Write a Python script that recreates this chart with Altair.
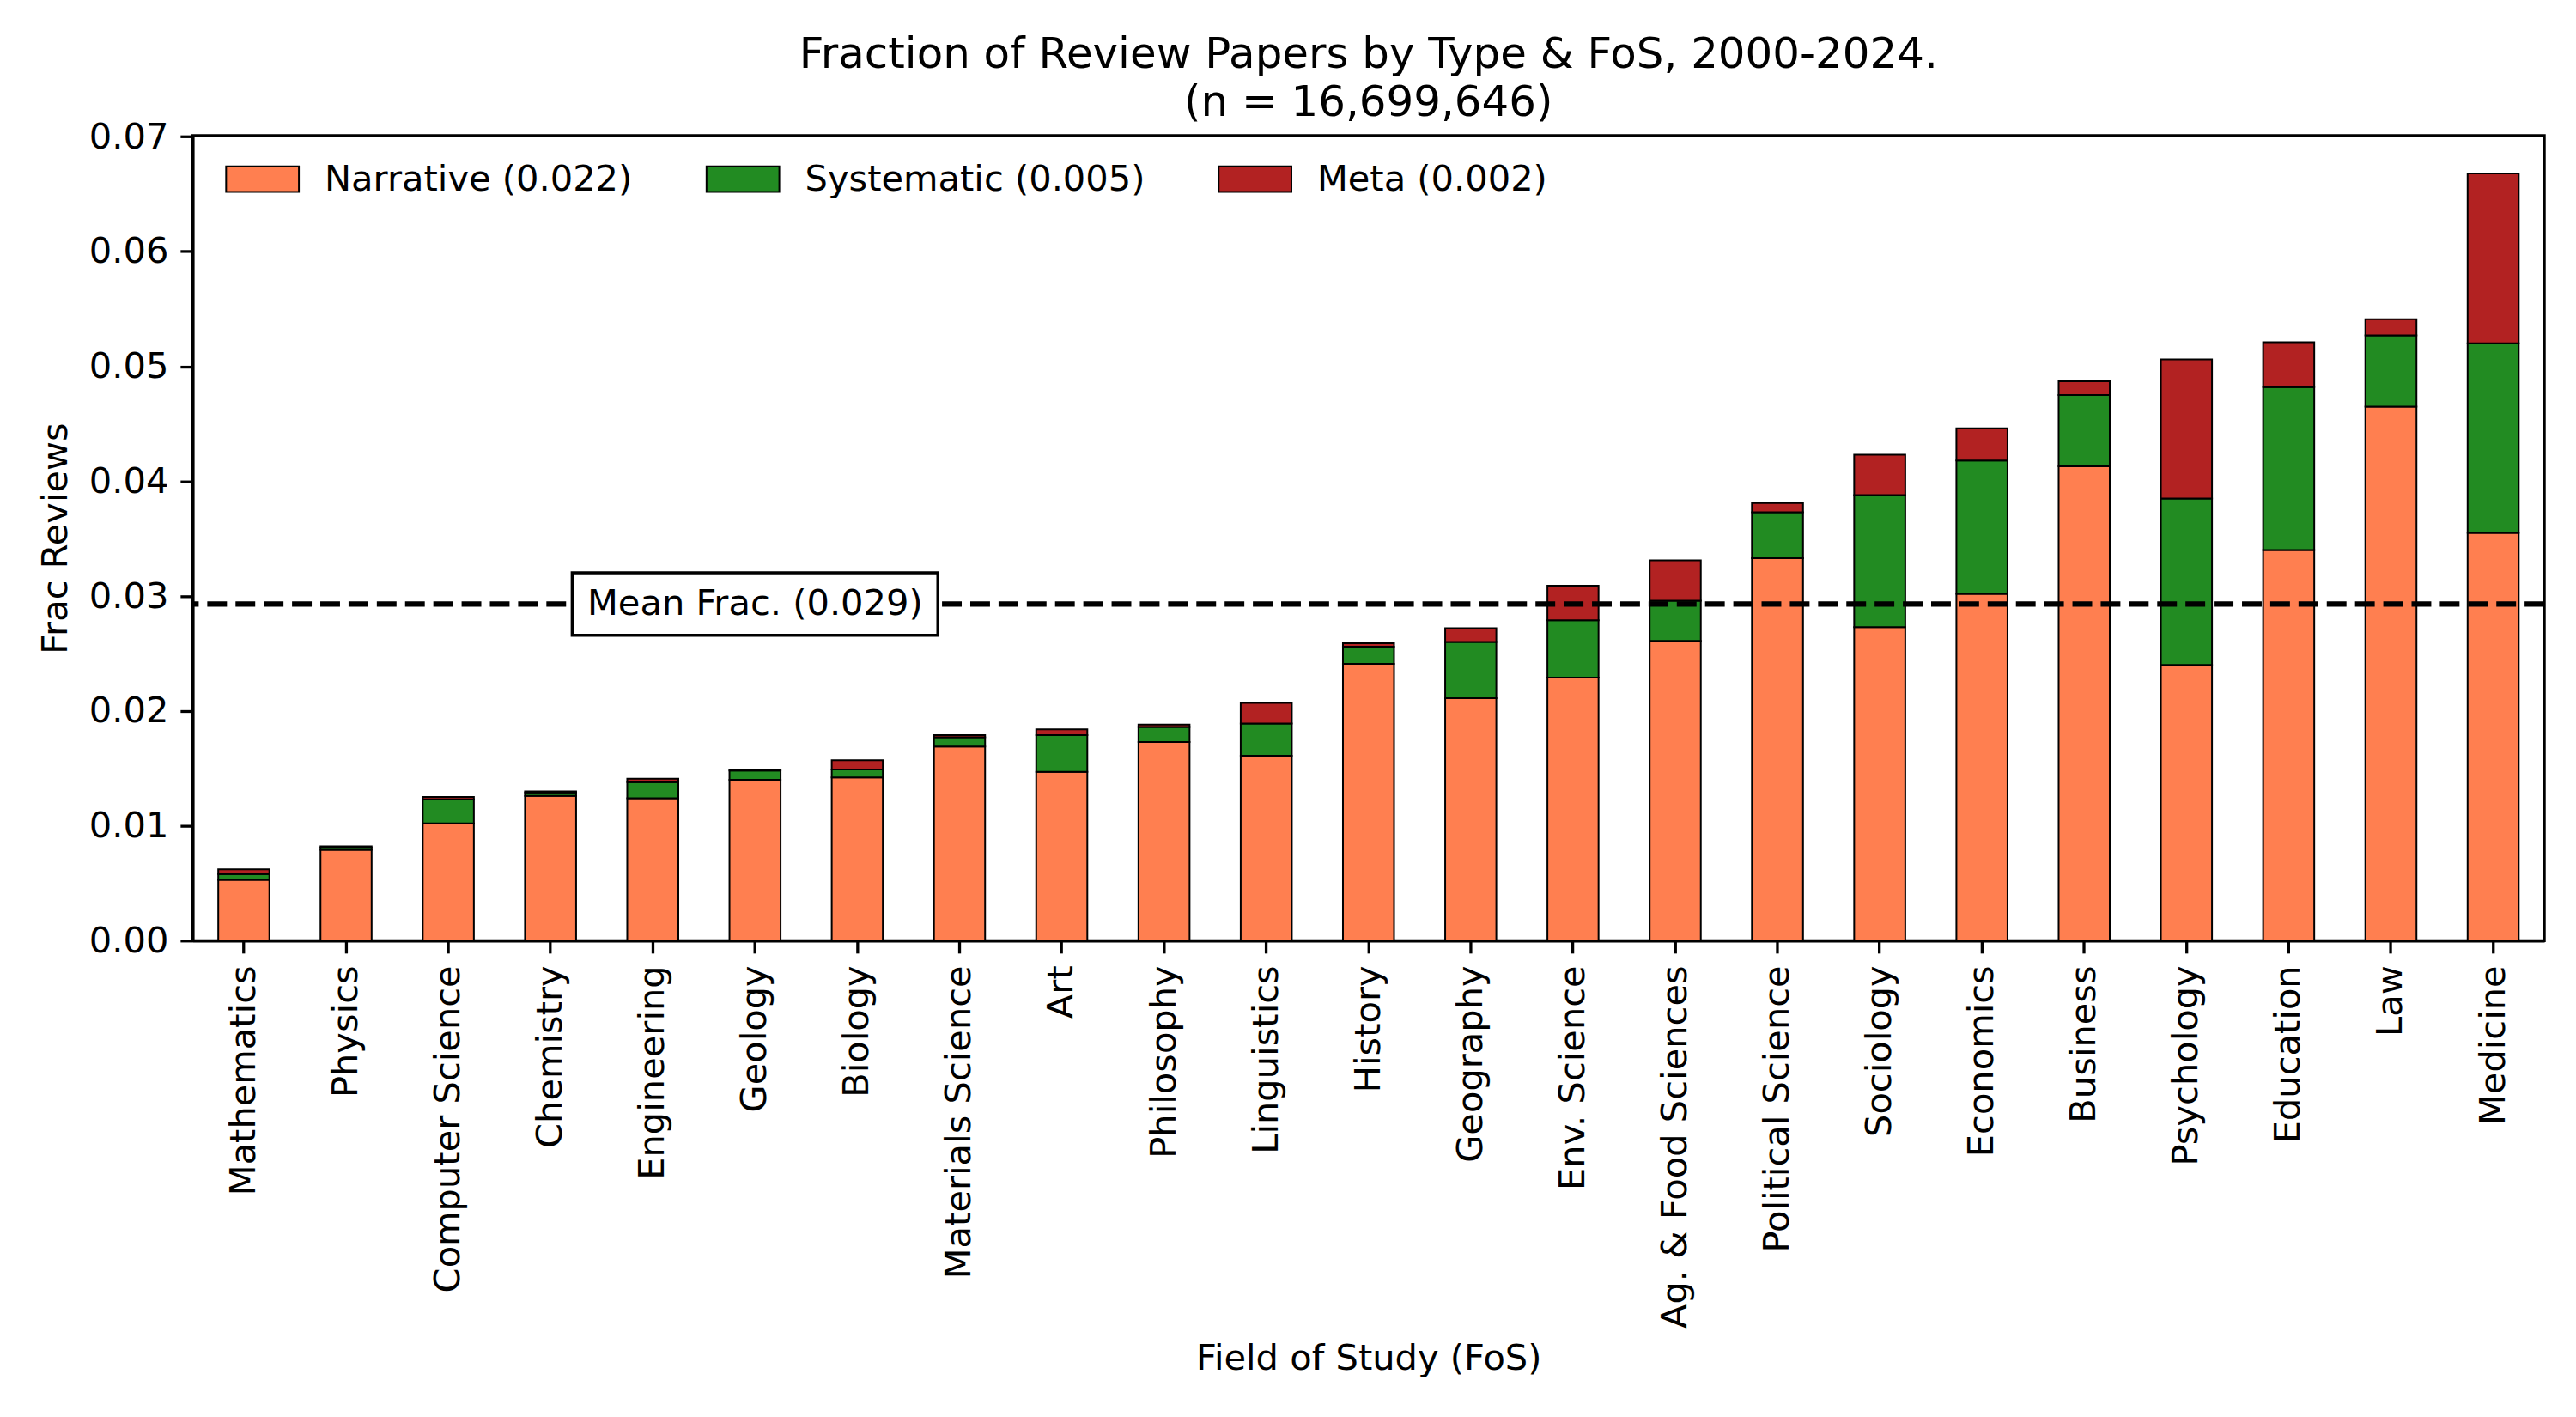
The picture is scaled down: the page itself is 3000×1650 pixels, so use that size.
import altair as alt
import pandas as pd

fields = ["Mathematics", "Physics", "Computer Science", "Chemistry", "Engineering",
          "Geology", "Biology", "Materials Science", "Art", "Philosophy", "Linguistics",
          "History", "Geography", "Env. Science", "Ag. & Food Sciences", "Political Science",
          "Sociology", "Economics", "Business", "Psychology", "Education", "Law", "Medicine"]
narrative = [0.0053, 0.0079, 0.0102, 0.0126, 0.0124, 0.0140, 0.0142, 0.0169, 0.0147, 0.0173,
             0.0161, 0.0241, 0.0211, 0.0229, 0.0261, 0.0333, 0.0273, 0.0302, 0.0413, 0.0240,
             0.0340, 0.0465, 0.0355]
systematic = [0.0005, 0.0002, 0.0021, 0.0003, 0.0014, 0.0008, 0.0007, 0.0008, 0.0032, 0.0013,
              0.0028, 0.0015, 0.0049, 0.0050, 0.0035, 0.0040, 0.0115, 0.0116, 0.0062, 0.0145,
              0.0142, 0.0062, 0.0165]
meta = [0.0004, 0.0001, 0.0002, 0.0001, 0.0003, 0.0001, 0.0008, 0.0002, 0.0005, 0.0002,
        0.0018, 0.0003, 0.0012, 0.0030, 0.0035, 0.0008, 0.0035, 0.0028, 0.0012, 0.0121,
        0.0039, 0.0014, 0.0148]
series = ["Narrative (0.022)", "Systematic (0.005)", "Meta (0.002)"]
colors = ["#FF7F50", "#228B22", "#B22222"]
mean_frac = 0.0293
mean_label = "Mean Frac. (0.029)"
mean_anchor = "Geology"
title_lines = ["Fraction of Review Papers by Type & FoS, 2000-2024.", "(n = 16,699,646)"]

rows = []
for i, f in enumerate(fields):
    for k, vals in enumerate([narrative, systematic, meta]):
        rows.append({"field": f, "type": series[k], "ord": k, "value": vals[i]})
df = pd.DataFrame(rows)
mean_df = pd.DataFrame({"field": [mean_anchor], "y": [mean_frac], "label": [mean_label]})

FONT = "DejaVu Sans"
x_enc = alt.X("field:N", sort=fields, title="Field of Study (FoS)",
              scale=alt.Scale(paddingInner=0.5, paddingOuter=0.25),
              axis=alt.Axis(labelAngle=270, labelAlign="right", labelBaseline="middle",
                            labelFontSize=41.7, titleFontSize=41.7,
                            titleY=488, titleBaseline="middle",
                            labelPadding=14, tickSize=14.6, tickWidth=3.3, labelLimit=2000,
                            domainWidth=3.3, domainColor="black", tickColor="black",
                            labelColor="black", titleColor="black",
                            labelFont=FONT, titleFont=FONT, titleFontWeight="normal"))
y_scale = alt.Scale(domain=[0, 0.0701], nice=False, zero=True)

bars = alt.Chart(df).mark_bar(stroke="black", strokeWidth=2).encode(
    x=x_enc,
    y=alt.Y("value:Q", stack="zero", scale=y_scale, title="Frac Reviews",
            axis=alt.Axis(values=[0, 0.01, 0.02, 0.03, 0.04, 0.05, 0.06, 0.07], format=".2f",
                          labelFontSize=41.7, titleFontSize=41.7, titlePadding=16.7,
                          labelPadding=14, tickSize=14.6, tickWidth=3.3, grid=False,
                          domainWidth=3.3, domainColor="black", tickColor="black",
                          labelColor="black", titleColor="black",
                          labelFont=FONT, titleFont=FONT, titleFontWeight="normal")),
    color=alt.Color("type:N", scale=alt.Scale(domain=series, range=colors),
                    legend=alt.Legend(title=None, orient="none", legendX=38, legendY=7,
                                      direction="horizontal",
                                      symbolType="M-1,-0.35L1,-0.35L1,0.35L-1,0.35Z",
                                      symbolSize=7225, symbolStrokeColor="black",
                                      symbolStrokeWidth=2, symbolOpacity=1,
                                      labelFontSize=41.7, labelFont=FONT, labelColor="black",
                                      labelOffset=29, columnPadding=82, padding=0,
                                      labelLimit=1000)),
    order=alt.Order("ord:Q", sort="ascending"),
)

rule = alt.Chart(mean_df).mark_rule(color="black", strokeWidth=6.25, strokeDash=[23, 10]).encode(
    y=alt.Y("y:Q", scale=y_scale)
)

box = alt.Chart(mean_df).mark_point(
    shape="M-1,-0.171L1,-0.171L1,0.171L-1,0.171Z", size=182329, filled=True,
    fill="white", stroke="black", strokeWidth=3.5, opacity=1
).encode(x=alt.X("field:N", sort=fields), y=alt.Y("y:Q", scale=y_scale))

txt = alt.Chart(mean_df).mark_text(fontSize=41.7, font=FONT, color="black",
                                   align="center", baseline="middle").encode(
    x=alt.X("field:N", sort=fields), y=alt.Y("y:Q", scale=y_scale), text="label:N")

chart = alt.layer(bars, rule, box, txt).properties(
    width=2746, height=940, background="white",
    title=alt.TitleParams(text=title_lines, fontSize=50, font=FONT, fontWeight="normal",
                          color="black", anchor="middle", offset=-6, lineHeight=56),
    padding={"left": 217, "top": 148, "right": 29, "bottom": 544},
    autosize=alt.AutoSizeParams(type="none"),
).configure_view(stroke="black", strokeWidth=3.3)

chart.save("out.html", embed_options={"renderer": "svg", "actions": False})
